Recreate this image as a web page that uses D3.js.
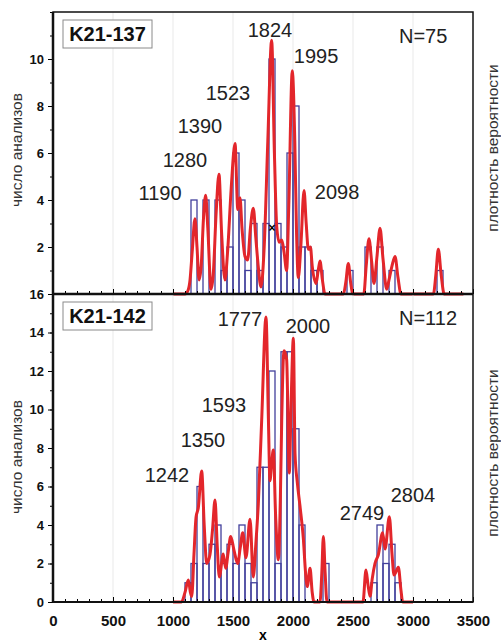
<!DOCTYPE html>
<meta charset="utf-8">
<script src="https://d3js.org/d3.v7.min.js"></script>
<style>
  body { margin: 0; background: #fff; }
  text { font-family: Arial, "Liberation Sans", sans-serif; }
</style>
<body>
<div id="chart"></div>
<script>

// histogram bins (left edge, width 50) and counts
var binWidth = 50;
var topBins   = [1150,1250,1350,1400,1450,1500,1550,1600,1650,1700,1750,1800,1850,1900,1950,2000,2050,2100,2150,2200,2450,2600,2700,2800,3200];
var topCounts = [4,4,4,1,2,6,4,1,3,1,3,10,3,2,6,8,2,2,1,1,1,2,2,1,1];
var botBins   = [1100,1150,1200,1250,1300,1350,1400,1450,1500,1550,1600,1650,1700,1750,1800,1850,1900,1950,2000,2050,2250,2650,2700,2750,2800,2850];
var botCounts = [1,2,6,2,3,4,2,3,2,4,2,1,7,7,12,2,13,13,9,4,2,1,4,2,3,1];

// probability density curves (in count units)
var topCurveX = [1000,1100,1125,1142,1160,1183,1200,1217,1235,1255,1272,1290,1317,1335,1360,1383,1405,1433,1455,1485,1517,1540,1558,1575,1600,1622,1645,1669,1690,1710,1733,1760,1790,1822,1845,1864,1885,1906,1925,1947,1965,1994,2015,2030,2044,2065,2092,2110,2128,2145,2160,2192,2210,2225,2245,2267,2420,2440,2461,2480,2500,2590,2610,2633,2655,2675,2700,2725,2750,2781,2800,2825,2850,2875,2900,3170,3190,3211,3235,3260,3420];
var topCurveY = [0,0,0.15,0.6,1.8,3.2,2.0,0.6,1.2,3.3,4.2,2.8,0.2,0.8,3.5,5.1,2.6,0.6,1.8,4.5,6.4,3.6,4.1,2.8,1.6,1.45,2.8,3.65,2.4,1.2,0.3,2.0,6.5,10.8,6.0,2.9,2.2,2.3,1.8,1.0,3.8,9.5,6.5,2.5,0.7,2.0,4.4,3.0,1.9,2.0,1.2,0.45,1.0,1.4,0.6,0,0,0.5,1.3,0.5,0,0,1.2,2.35,1.4,0.45,1.6,2.8,1.5,0.2,0.6,1.2,1.6,0.7,0,0,0.8,1.9,0.8,0,0];
var botCurveX = [1000,1070,1100,1128,1145,1156,1175,1192,1211,1239,1260,1281,1308,1330,1350,1368,1386,1419,1439,1460,1481,1508,1539,1560,1581,1608,1642,1669,1690,1711,1739,1775,1795,1808,1822,1836,1855,1878,1895,1906,1925,1947,1969,1985,2003,2017,2036,2058,2086,2105,2119,2142,2160,2175,2225,2240,2253,2268,2283,2583,2608,2625,2642,2660,2683,2711,2747,2767,2803,2825,2842,2878,2900,2914,3000];
var botCurveY = [0,0,0.5,1.14,0.5,0.28,2.5,4.4,4.9,6.8,4.0,2.0,2.45,3.8,5.3,3.0,1.3,2.5,1.75,2.6,3.4,2.7,2.0,2.8,3.6,2.3,4.3,1.3,3.0,5.1,9.45,14.8,9.5,6.3,7.2,7.9,4.5,2.2,5.5,9.45,13.05,12.6,6.7,10.5,13.7,7.7,6.2,5.0,3.3,1.5,0.8,1.75,0.5,0,0,1.5,3.4,1.5,0,0,1.66,0.9,0.3,1.2,2.0,2.45,3.6,2.75,4.43,2.5,1.4,1.8,0.6,0,0];

// peak labels and where they sit (axis units)
var topPeaks  = ["1190","1280","1390","1523","1824","1995","2098"];
var topPeakX  = [892,1100,1225,1458,1808,2192,2367];
var topPeakY  = [4.0,5.4,6.85,8.26,10.94,9.83,4.04];
var botPeaks  = ["1242","1350","1593","1777","2000","2749","2804"];
var botPeakX  = [950,1250,1425,1558,2125,2575,3000];
var botPeakY  = [6.23,8.05,9.87,14.34,13.97,4.26,5.19];

var xTicks = [0,500,1000,1500,2000,2500,3000,3500];

var width = 501, height = 641;
var red = "#e3262b", blue = "#43409c";

var svg = d3.select("#chart")
  .append("svg")
  .attr("width", width)
  .attr("height", height);

var x = d3.scaleLinear().domain([0, 3500]).range([53, 473]);
var yTop = d3.scaleLinear().domain([0, 12]).range([294, 12]);
var yBot = d3.scaleLinear().domain([0, 16]).range([602, 294]);

function drawPanel(y, bins, counts, cx, cy, peaks, px, py, name, n, yLabels, leftMid, rightMid) {
  var g = svg.append("g");

  // faint vertical grid
  g.selectAll(".grid")
    .data(xTicks.slice(1, -1))
    .enter().append("line")
    .attr("x1", function(d) { return x(d); })
    .attr("x2", function(d) { return x(d); })
    .attr("y1", y.range()[0])
    .attr("y2", y.range()[1])
    .style("stroke", "#e9e9e9")
    .style("stroke-width", 1);

  // bars
  g.selectAll(".bar")
    .data(bins)
    .enter().append("rect")
    .attr("x", function(d) { return x(d); })
    .attr("width", x(binWidth) - x(0))
    .attr("y", function(d, i) { return y(counts[i]); })
    .attr("height", function(d, i) { return y(0) - y(counts[i]); })
    .style("fill", "none")
    .style("stroke", blue)
    .style("stroke-width", 1.3);

  // density curve
  var line = d3.line()
    .x(function(d) { return x(d); })
    .y(function(d, i) { return y(cy[i]); })
    .curve(d3.curveMonotoneX);
  g.append("path")
    .attr("d", line(cx))
    .style("fill", "none")
    .style("stroke", red)
    .style("stroke-width", 3)
    .style("stroke-linejoin", "round");

  // peak ages
  g.selectAll(".peak")
    .data(peaks)
    .enter().append("text")
    .attr("x", function(d, i) { return x(px[i]); })
    .attr("y", function(d, i) { return y(py[i]); })
    .attr("text-anchor", "middle")
    .style("font-size", "20px")
    .style("fill", "#222")
    .text(function(d) { return d; });

  // y axis
  var ax = g.append("g")
    .attr("transform", "translate(53,0)")
    .call(d3.axisLeft(y).tickValues(yLabels).tickSize(5).tickPadding(4));
  ax.select(".domain").remove();
  ax.selectAll("text").style("font-size", "13px").style("font-weight", "bold").style("fill", "#111");
  g.append("g")
    .attr("transform", "translate(53,0)")
    .call(d3.axisLeft(y).ticks(y.domain()[1]).tickSize(3).tickFormat(""))
    .select(".domain").remove();

  // sample box
  var by = y.range()[1];
  g.append("rect")
    .attr("x", 63).attr("y", by + 8)
    .attr("width", 89).attr("height", 28)
    .style("fill", "#fff")
    .style("stroke", "#8a8a8a");
  g.append("text")
    .attr("x", 107.5).attr("y", by + 29)
    .attr("text-anchor", "middle")
    .style("font-size", "20px")
    .style("font-weight", "bold")
    .style("fill", "#111")
    .text(name);
  g.append("text")
    .attr("x", 399).attr("y", by + 31)
    .style("font-size", "20px")
    .style("fill", "#222")
    .text(n);

  // side labels
  g.append("text")
    .attr("transform", "translate(22," + leftMid + ") rotate(-90)")
    .attr("text-anchor", "middle")
    .style("font-size", "15.5px")
    .style("fill", "#333")
    .text("число анализов");
  g.append("text")
    .attr("transform", "translate(498," + rightMid + ") rotate(-90)")
    .attr("text-anchor", "middle")
    .style("font-size", "15.5px")
    .style("fill", "#333")
    .text("плотность вероятности");

  // x ticks on the baseline
  g.append("g")
    .attr("transform", "translate(0," + y(0) + ")")
    .call(d3.axisTop(x).ticks(35).tickSize(3).tickFormat(""))
    .select(".domain").remove();
  g.append("g")
    .attr("transform", "translate(0," + y(0) + ")")
    .call(d3.axisTop(x).tickValues(xTicks).tickSize(5).tickFormat(""))
    .select(".domain").remove();
}

drawPanel(yTop, topBins, topCounts, topCurveX, topCurveY, topPeaks, topPeakX, topPeakY, "K21-137", "N=75", [2,4,6,8,10], 150, 148);
drawPanel(yBot, botBins, botCounts, botCurveX, botCurveY, botPeaks, botPeakX, botPeakY, "K21-142", "N=112", [0,2,4,6,8,10,12,14,16], 457, 453);

// the marker on the upper histogram
svg.append("text")
  .attr("x", x(1825)).attr("y", yTop(2.8) + 4)
  .attr("text-anchor", "middle")
  .style("font-size", "12px")
  .style("font-weight", "bold")
  .text("×");

// frame
svg.append("rect")
  .attr("x", 53).attr("y", 12)
  .attr("width", 420).attr("height", 590)
  .style("fill", "none")
  .style("stroke", "#111")
  .style("stroke-width", 1.5);
svg.append("line")
  .attr("x1", 53).attr("x2", 473)
  .attr("y1", 294).attr("y2", 294)
  .style("stroke", "#111").style("stroke-width", 2.5);
svg.append("line")
  .attr("x1", 53).attr("x2", 473)
  .attr("y1", 602).attr("y2", 602)
  .style("stroke", "#111").style("stroke-width", 2);
svg.append("line")
  .attr("x1", 53).attr("x2", 53)
  .attr("y1", 12).attr("y2", 602)
  .style("stroke", "#111").style("stroke-width", 2.5);

// x axis labels
var xa = svg.append("g")
  .attr("transform", "translate(0,602)")
  .call(d3.axisBottom(x).tickValues(xTicks).tickSize(0).tickPadding(13).tickFormat(d3.format("d")));
xa.select(".domain").remove();
xa.selectAll("text").style("font-size", "15px").style("font-weight", "bold").style("fill", "#111");

svg.append("text")
  .attr("x", 263).attr("y", 640)
  .attr("text-anchor", "middle")
  .style("font-size", "14px")
  .style("font-weight", "bold")
  .text("x");

</script>
</body>
